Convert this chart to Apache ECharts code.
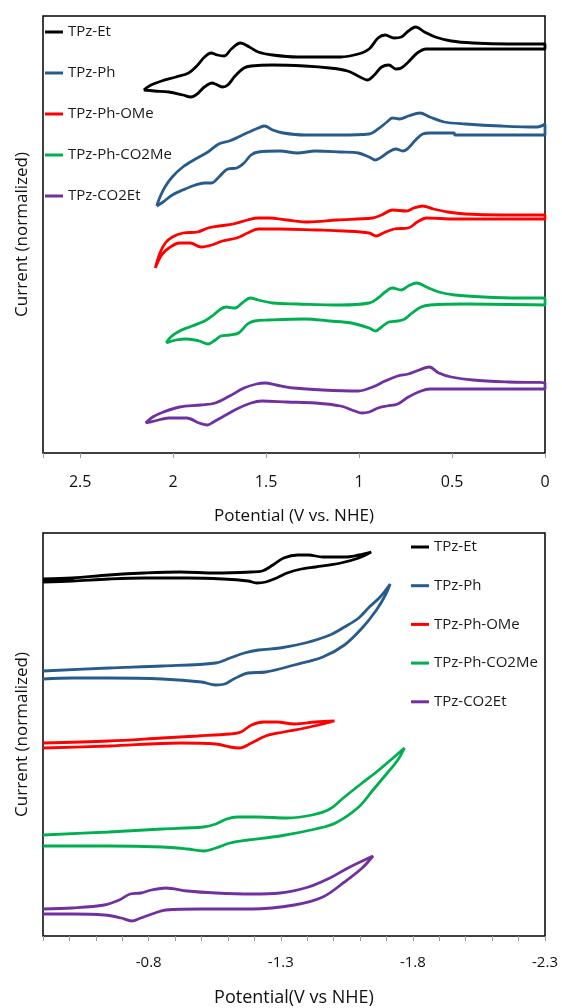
<!DOCTYPE html>
<html>
<head>
<meta charset="utf-8">
<script src="https://cdn.jsdelivr.net/npm/echarts@6/dist/echarts.min.js"></script>
<style>html,body{margin:0;padding:0;background:#fff;}#c{width:562px;height:1008px;}</style>
</head>
<body>
<div id="c"></div>
<script>
// compound names (legend order)
var compounds = ['TPz-Et', 'TPz-Ph', 'TPz-Ph-OMe', 'TPz-Ph-CO2Me', 'TPz-CO2Et'];
var colors = ['#000000', '#285a8c', '#ff0000', '#00b050', '#7030a0'];

// tick labels
var topTickLabels = [0, 0.5, 1, 1.5, 2, 2.5];
var bottomTickLabels = [-0.8, -1.3, -1.8, -2.3];

// Top panel: oxidation scans [potential (V vs NHE), current (normalized, offset)]
var topEt = [
[2.158,36.3],[2.119,36.8],[2.062,37.2],[1.985,37.6],[1.917,38.0],[1.873,38.7],[1.831,39.6],[1.796,40.0],[1.763,39.8],[1.725,39.7],[1.687,40.4],[1.638,41.0],[1.590,40.6],[1.542,40.1],[1.465,39.8],[1.331,39.6],[1.100,39.6],[1.004,39.9],[0.946,40.4],[0.898,41.5],[0.860,41.8],[0.812,41.5],[0.773,41.6],[0.735,42.2],[0.696,42.6],[0.648,42.1],[0.590,41.6],[0.504,41.2],[0.388,41.0],[0.196,40.9],[0.000,40.9],
[0.000,40.4],[0.235,40.4],[0.542,40.4],[0.639,40.4],[0.687,40.0],[0.735,39.1],[0.773,38.5],[0.802,38.4],[0.840,38.8],[0.879,38.6],[0.918,37.8],[0.956,37.3],[0.995,37.6],[1.062,38.2],[1.158,38.5],[1.292,38.7],[1.465,38.8],[1.581,38.7],[1.619,38.5],[1.667,37.7],[1.706,36.8],[1.735,36.6],[1.773,36.9],[1.790,37.0],[1.832,36.6],[1.871,35.9],[1.905,35.6],[1.948,35.8],[2.023,36.1],[2.100,36.2],[2.158,36.3]
];
var topPh = [
[2.088,24.7],[2.073,25.5],[2.044,26.6],[2.005,27.6],[1.948,28.6],[1.880,29.4],[1.813,30.1],[1.755,30.9],[1.698,31.2],[1.649,31.6],[1.592,32.1],[1.542,32.5],[1.508,32.7],[1.465,32.3],[1.408,32.0],[1.292,31.8],[1.100,31.8],[0.946,31.9],[0.898,32.4],[0.850,33.1],[0.821,33.5],[0.783,33.4],[0.735,33.7],[0.673,34.0],[0.619,33.6],[0.542,33.1],[0.427,32.9],[0.235,32.7],[0.042,32.6],[0.000,32.9],
[0.000,31.8],[0.485,31.8],[0.489,32.0],[0.619,32.0],[0.658,31.9],[0.696,31.3],[0.735,30.5],[0.764,30.2],[0.802,30.4],[0.841,30.1],[0.879,29.6],[0.912,29.3],[0.946,29.6],[1.004,30.0],[1.100,30.1],[1.235,30.2],[1.331,30.0],[1.427,30.2],[1.542,30.1],[1.581,29.8],[1.619,29.0],[1.658,28.5],[1.706,28.4],[1.754,27.6],[1.793,27.0],[1.832,27.0],[1.880,26.8],[1.948,26.3],[2.005,25.8],[2.054,25.1],[2.088,24.7]
];
var topPhOMe = [
[2.096,18.5],[2.071,20.0],[2.042,21.0],[2.004,21.6],[1.946,22.0],[1.869,22.1],[1.812,22.5],[1.754,22.7],[1.677,22.9],[1.600,23.3],[1.542,23.5],[1.485,23.5],[1.388,23.3],[1.273,23.1],[1.119,23.3],[0.927,23.5],[0.879,23.8],[0.821,24.3],[0.744,24.2],[0.706,24.5],[0.658,24.7],[0.600,24.4],[0.523,24.1],[0.427,23.9],[0.235,23.8],[0.000,23.8],
[0.000,23.4],[0.485,23.4],[0.638,23.5],[0.687,23.1],[0.735,22.5],[0.812,22.4],[0.869,22.0],[0.908,21.7],[0.946,22.0],[1.081,22.2],[1.235,22.3],[1.427,22.4],[1.542,22.4],[1.600,22.0],[1.658,21.5],[1.735,21.2],[1.792,20.8],[1.850,20.6],[1.908,21.0],[1.965,21.0],[2.023,20.5],[2.062,19.8],[2.096,18.5]
];
var topPhCO2Me = [
[2.037,11.0],[2.013,11.6],[1.965,12.2],[1.898,12.7],[1.831,13.2],[1.783,13.8],[1.744,14.4],[1.715,14.6],[1.667,14.5],[1.629,15.0],[1.585,15.5],[1.542,15.3],[1.465,15.0],[1.331,14.9],[1.100,14.8],[0.946,15.0],[0.898,15.5],[0.860,16.1],[0.821,16.5],[0.773,16.3],[0.735,16.7],[0.690,17.0],[0.638,16.6],[0.571,16.1],[0.485,15.8],[0.331,15.6],[0.138,15.5],[0.000,15.5],
[0.000,14.8],[0.427,14.9],[0.619,14.8],[0.667,14.6],[0.715,14.0],[0.754,13.4],[0.792,13.2],[0.840,13.1],[0.879,12.6],[0.912,12.2],[0.946,12.5],[1.042,13.0],[1.158,13.2],[1.292,13.4],[1.485,13.3],[1.562,13.2],[1.600,12.9],[1.648,12.0],[1.696,11.8],[1.744,11.7],[1.773,11.3],[1.812,10.9],[1.860,11.2],[1.927,11.4],[1.985,11.3],[2.037,11.0]
];
var topCO2Et = [
[2.148,3.0],[2.110,3.6],[2.052,4.1],[1.965,4.6],[1.850,4.8],[1.773,5.0],[1.696,5.7],[1.619,6.5],[1.552,6.9],[1.504,7.0],[1.446,6.8],[1.350,6.5],[1.196,6.3],[1.004,6.2],[0.927,6.6],[0.860,7.2],[0.792,7.7],[0.735,7.9],[0.677,8.3],[0.623,8.6],[0.571,8.0],[0.504,7.6],[0.388,7.3],[0.196,7.1],[0.000,7.0],
[0.000,6.4],[0.427,6.4],[0.619,6.4],[0.667,6.2],[0.735,5.6],[0.792,4.9],[0.850,4.7],[0.898,4.5],[0.946,4.1],[0.985,4.0],[1.023,4.2],[1.100,4.7],[1.235,5.0],[1.388,5.1],[1.523,5.2],[1.581,5.0],[1.658,4.4],[1.735,3.6],[1.783,3.1],[1.815,2.8],[1.860,3.0],[1.927,3.5],[2.023,3.5],[2.100,3.2],[2.148,3.0]
];

// Bottom panel: reduction scans
var botEt = [
[-0.400,35.7],[-0.511,35.8],[-0.649,36.1],[-0.784,36.3],[-0.919,36.4],[-1.054,36.3],[-1.189,36.4],[-1.230,36.5],[-1.270,37.1],[-1.311,37.8],[-1.365,38.1],[-1.405,38.1],[-1.459,37.9],[-1.541,37.9],[-1.595,38.1],[-1.642,38.4],
[-1.595,37.8],[-1.527,37.3],[-1.432,36.9],[-1.378,36.7],[-1.324,36.3],[-1.284,35.8],[-1.243,35.4],[-1.209,35.3],[-1.176,35.5],[-1.081,35.7],[-0.946,35.8],[-0.784,35.8],[-0.649,35.7],[-0.511,35.5],[-0.400,35.4]
];
var botPh = [
[-0.400,26.5],[-0.649,26.8],[-0.851,27.0],[-1.054,27.3],[-1.108,27.8],[-1.162,28.3],[-1.216,28.6],[-1.297,28.8],[-1.392,29.3],[-1.486,30.1],[-1.541,30.9],[-1.595,31.8],[-1.635,32.9],[-1.676,33.9],[-1.714,35.2],
[-1.696,34.1],[-1.662,32.6],[-1.608,30.8],[-1.541,29.1],[-1.459,27.9],[-1.351,27.1],[-1.243,26.4],[-1.176,26.3],[-1.122,25.7],[-1.088,25.2],[-1.054,25.1],[-1.000,25.4],[-0.851,25.7],[-0.649,25.8],[-0.511,25.8],[-0.400,25.7]
];
var botPhOMe = [
[-0.400,19.3],[-0.649,19.5],[-0.851,19.8],[-0.986,20.0],[-1.108,20.2],[-1.149,20.4],[-1.189,21.1],[-1.236,21.4],[-1.284,21.4],[-1.351,21.2],[-1.432,21.4],[-1.503,21.5],
[-1.459,21.2],[-1.392,20.8],[-1.311,20.4],[-1.243,20.0],[-1.189,19.3],[-1.142,18.8],[-1.108,18.9],[-1.054,19.2],[-0.919,19.3],[-0.649,19.0],[-0.400,18.8]
];
var botPhCO2Me = [
[-0.400,10.1],[-0.649,10.4],[-0.851,10.7],[-1.007,10.9],[-1.054,11.2],[-1.095,11.7],[-1.135,11.9],[-1.216,11.9],[-1.324,11.8],[-1.419,12.1],[-1.486,12.7],[-1.541,13.9],[-1.608,15.3],[-1.662,16.4],[-1.716,17.6],[-1.768,18.8],
[-1.743,17.6],[-1.703,16.3],[-1.649,14.6],[-1.595,12.9],[-1.507,11.3],[-1.432,10.7],[-1.297,10.0],[-1.176,9.6],[-1.108,9.3],[-1.054,8.8],[-1.007,8.5],[-0.946,8.7],[-0.851,8.9],[-0.649,9.0],[-0.400,9.0]
];
var botCO2Et = [
[-0.400,2.7],[-0.511,2.8],[-0.632,3.1],[-0.689,3.6],[-0.730,4.2],[-0.770,4.3],[-0.811,4.6],[-0.865,4.8],[-0.946,4.5],[-1.054,4.3],[-1.189,4.2],[-1.297,4.3],[-1.405,4.9],[-1.486,5.8],[-1.554,6.8],[-1.649,8.0],
[-1.608,6.8],[-1.541,5.4],[-1.459,3.9],[-1.351,3.1],[-1.189,2.7],[-1.000,2.7],[-0.865,2.6],[-0.824,2.3],[-0.770,1.8],[-0.736,1.5],[-0.696,1.8],[-0.632,2.1],[-0.511,2.2],[-0.400,2.2]
];

var topData = [topEt, topPh, topPhOMe, topPhCO2Me, topCO2Et];
var botData = [botEt, botPh, botPhOMe, botPhCO2Me, botCO2Et];

var FONT = 'Open Sans';
function inList(list, v) {
  for (var i = 0; i < list.length; i++) if (Math.abs(list[i] - v) < 1e-6) return true;
  return false;
}
function fmt(v) { return String(Number(v.toFixed(2))); }

var series = [];
compounds.forEach(function (name, i) {
  series.push({
    name: name, type: 'line', xAxisIndex: 0, yAxisIndex: 0, data: topData[i],
    showSymbol: false, smooth: 0.35, color: colors[i],
    lineStyle: { width: 2.8, color: colors[i] }, silent: true, animation: false
  });
  series.push({
    name: name, type: 'line', xAxisIndex: 1, yAxisIndex: 1, data: botData[i],
    showSymbol: false, smooth: 0.35, color: colors[i],
    lineStyle: { width: 2.8, color: colors[i] }, silent: true, animation: false
  });
});

var legendCommon = {
  orient: 'vertical', icon: 'rect', itemWidth: 18, itemHeight: 3, padding: 0,
  data: compounds, selectedMode: false,
  textStyle: { fontFamily: FONT, fontSize: 15, color: '#1a1a1a', lineHeight: 17 }
};

var option = {
  animation: false,
  backgroundColor: '#fff',
  grid: [
    { left: 43, top: 16, width: 502, height: 437, show: true, borderColor: '#000', borderWidth: 1.5, backgroundColor: 'transparent' },
    { left: 43, top: 533, width: 502, height: 403, show: true, borderColor: '#000', borderWidth: 1.5, backgroundColor: 'transparent' }
  ],
  legend: [
    Object.assign({}, legendCommon, { left: 45, top: 23.5, itemGap: 24 }),
    Object.assign({}, legendCommon, { left: 411, top: 538.5, itemGap: 21.7 })
  ],
  xAxis: [
    {
      gridIndex: 0, type: 'value', min: 0, max: 2.7, interval: 0.5, inverse: true,
      axisLine: { show: false },
      axisTick: { show: true, length: 5, lineStyle: { color: '#999', width: 1 } },
      axisLabel: { fontFamily: FONT, fontSize: 16, color: '#111', margin: 21,
        formatter: function (v) { return inList(topTickLabels, v) ? fmt(v) : ''; } },
      splitLine: { show: false },
      name: 'Potential (V vs. NHE)', nameLocation: 'middle', nameGap: 55,
      nameTextStyle: { fontFamily: FONT, fontSize: 17, color: '#111' }
    },
    {
      gridIndex: 1, type: 'value', min: -2.3, max: -0.4, interval: 0.1, inverse: true,
      axisLine: { show: false },
      axisTick: { show: true, length: 5, lineStyle: { color: '#999', width: 1 } },
      axisLabel: { fontFamily: FONT, fontSize: 15, color: '#111', margin: 19, showMinLabel: true, showMaxLabel: true,
        formatter: function (v) { return inList(bottomTickLabels, v) ? fmt(v) : ''; } },
      splitLine: { show: false },
      name: 'Potential(V vs NHE)', nameLocation: 'middle', nameGap: 53,
      nameTextStyle: { fontFamily: FONT, fontSize: 18, color: '#111' }
    }
  ],
  yAxis: [
    {
      gridIndex: 0, type: 'value', min: 0, max: 43.7,
      axisLine: { show: false }, axisTick: { show: false }, axisLabel: { show: false }, splitLine: { show: false },
      name: 'Current (normalized)', nameLocation: 'middle', nameGap: 12,
      nameTextStyle: { fontFamily: FONT, fontSize: 17, color: '#111' }
    },
    {
      gridIndex: 1, type: 'value', min: 0, max: 40.3,
      axisLine: { show: false }, axisTick: { show: false }, axisLabel: { show: false }, splitLine: { show: false },
      name: 'Current (normalized)', nameLocation: 'middle', nameGap: 12,
      nameTextStyle: { fontFamily: FONT, fontSize: 17, color: '#111' }
    }
  ],
  series: series
};

var chart = echarts.init(document.getElementById('c'), null, { renderer: 'canvas' });
chart.setOption(option);
</script>
</body>
</html>
